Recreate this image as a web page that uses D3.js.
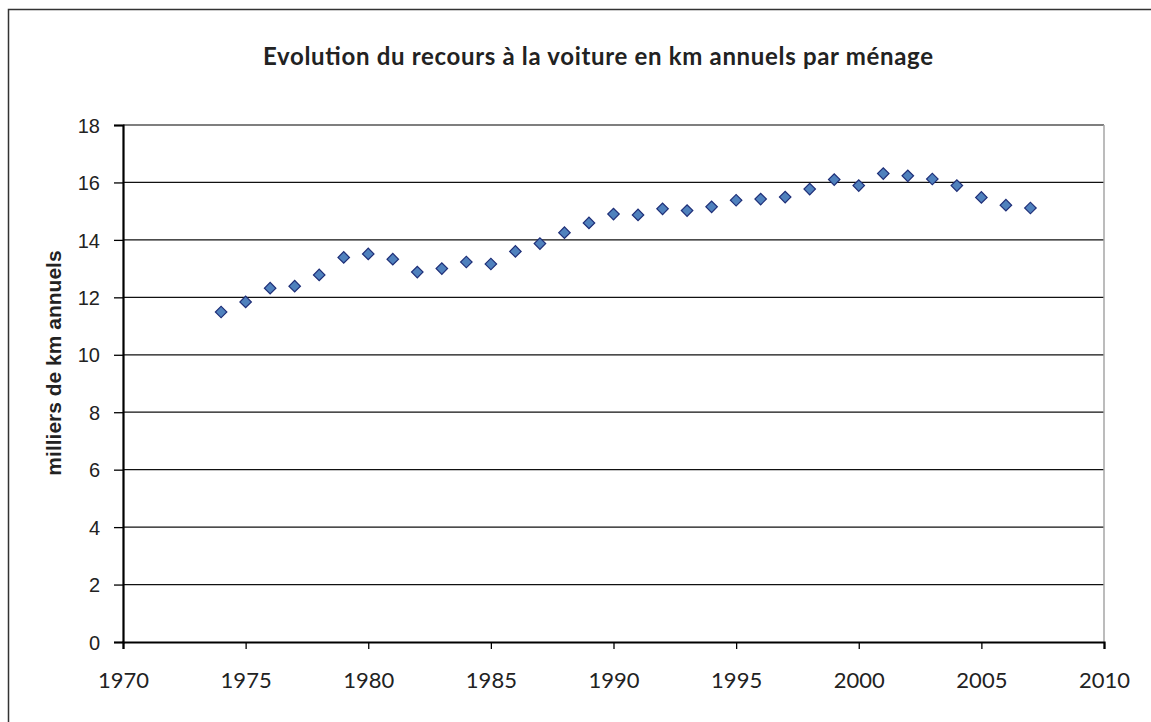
<!DOCTYPE html>
<html>
<head>
<meta charset="utf-8">
<script src="https://cdn.jsdelivr.net/npm/d3@7"></script>
<style>
  body { margin: 0; background: #fff; }
</style>
</head>
<body>
<script>
// Data
const years = [1974, 1975, 1976, 1977, 1978, 1979, 1980, 1981, 1982, 1983, 1984, 1985,
               1986, 1987, 1988, 1989, 1990, 1991, 1992, 1993, 1994, 1995, 1996, 1997,
               1998, 1999, 2000, 2001, 2002, 2003, 2004, 2005, 2006, 2007];
const kmThousands = [11.49, 11.84, 12.32, 12.39, 12.78, 13.39, 13.51, 13.33, 12.88, 13.00, 13.23, 13.16,
                     13.60, 13.87, 14.25, 14.59, 14.90, 14.87, 15.08, 15.02, 15.15, 15.38, 15.42, 15.49,
                     15.77, 16.10, 15.89, 16.31, 16.23, 16.12, 15.89, 15.48, 15.21, 15.11];
const xTicks = [1970, 1975, 1980, 1985, 1990, 1995, 2000, 2005, 2010];
const yTicks = [0, 2, 4, 6, 8, 10, 12, 14, 16, 18];

const titleText = "Evolution du recours à la voiture en km annuels par ménage";
const yLabelText = "milliers de km annuels";

const width = 1151, height = 722;
const margin = {top: 125, right: 47, bottom: 80, left: 123};

const svg = d3.select("body").append("svg")
    .attr("width", width)
    .attr("height", height);

// outer frame (runs off the right and bottom edges)
svg.append("rect")
    .attr("x", 8.5).attr("y", 9.5)
    .attr("width", width + 20).attr("height", height + 20)
    .attr("fill", "#fff")
    .attr("stroke", "#333")
    .attr("stroke-width", 1.5);

const x = d3.scaleLinear()
    .domain([1970, 2010])
    .range([margin.left, width - margin.right]);

const y = d3.scaleLinear()
    .domain([0, 18])
    .range([height - margin.bottom, margin.top]);

// horizontal gridlines
svg.append("g")
    .selectAll("line")
    .data(yTicks.filter(d => d > 0))
    .join("line")
    .attr("x1", x(1970)).attr("x2", x(2010))
    .attr("y1", d => y(d)).attr("y2", d => y(d))
    .attr("stroke", d => d === 18 ? "#555" : "#111")
    .attr("stroke-width", 1.3);

// right border of the plot area
svg.append("line")
    .attr("x1", x(2010)).attr("x2", x(2010))
    .attr("y1", y(18)).attr("y2", y(0))
    .attr("stroke", "#a6a6a6")
    .attr("stroke-width", 1.5);

// y axis
const yAxis = svg.append("g")
    .attr("transform", `translate(${x(1970)},0)`)
    .call(d3.axisLeft(y).tickValues(yTicks).tickSize(9).tickPadding(14));
yAxis.select(".domain").attr("stroke", "#000").attr("stroke-width", 2.2);
yAxis.selectAll(".tick line").attr("stroke", "#000").attr("stroke-width", 1.3);
yAxis.selectAll(".tick text")
    .attr("font-family", "Liberation Sans, Arial, sans-serif")
    .attr("font-size", 20)
    .attr("fill", "#222")
    .attr("dy", "0.36em");

// x axis
const xAxis = svg.append("g")
    .attr("transform", `translate(0,${y(0)})`)
    .call(d3.axisBottom(x).tickValues(xTicks).tickFormat(d3.format("d")).tickSize(7).tickPadding(23));
xAxis.select(".domain").attr("stroke", "#000").attr("stroke-width", 2.2);
xAxis.selectAll(".tick line").attr("stroke", "#000").attr("stroke-width", 1.3);
xAxis.selectAll(".tick text")
    .attr("font-family", "Lato, 'Open Sans', sans-serif")
    .attr("font-size", 22)
    .attr("fill", "#222");

// diamond markers
const diamond = d3.symbol().type(d3.symbolSquare).size(66);
svg.append("g")
    .selectAll("path")
    .data(years.map((yr, i) => ({year: yr, value: kmThousands[i]})))
    .join("path")
    .attr("d", diamond)
    .attr("transform", d => `translate(${x(d.year)},${y(d.value)}) rotate(45)`)
    .attr("fill", "#4f81bd")
    .attr("stroke", "#1f2f78")
    .attr("stroke-width", 1.2);

// title
svg.append("text")
    .attr("x", 598)
    .attr("y", 65)
    .attr("text-anchor", "middle")
    .attr("font-family", "Lato, 'Open Sans', sans-serif")
    .attr("font-weight", "bold")
    .attr("font-size", 24)
    .attr("textLength", 670)
    .attr("lengthAdjust", "spacing")
    .attr("fill", "#222")
    .text(titleText);

// y axis label
svg.append("text")
    .attr("transform", `translate(61,363) rotate(-90)`)
    .attr("text-anchor", "middle")
    .attr("font-family", "Liberation Sans, Arial, sans-serif")
    .attr("font-weight", "bold")
    .attr("font-size", 21)
    .attr("fill", "#222")
    .text(yLabelText);
</script>
</body>
</html>
